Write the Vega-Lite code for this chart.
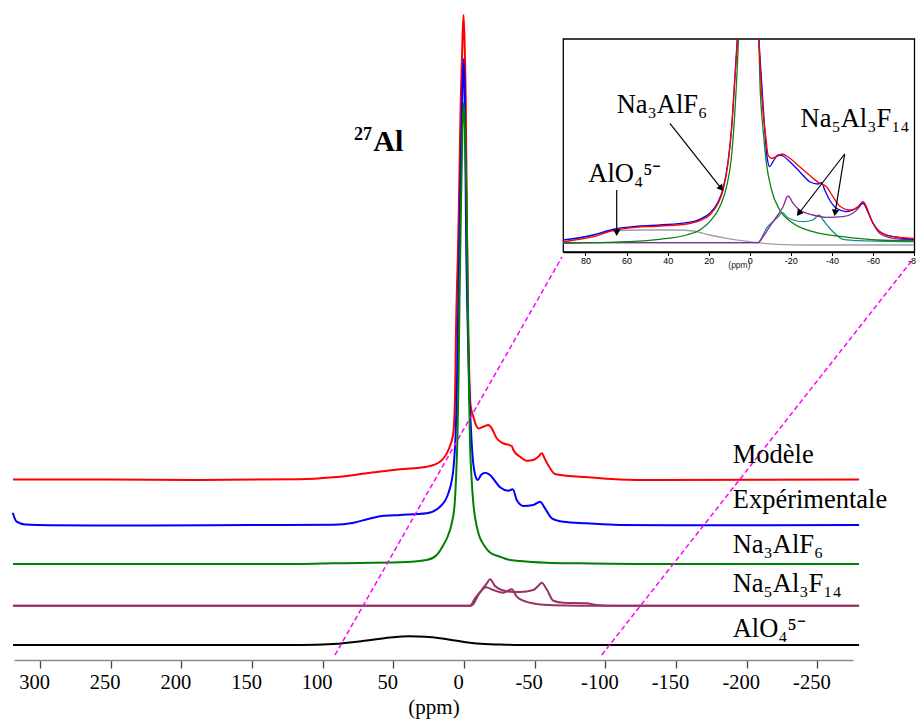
{
  "$schema": "https://vega.github.io/schema/vega-lite/v6.json",
  "width": 839,
  "height": 660,
  "autosize": {"type": "none"},
  "padding": {"left": 14, "top": 0, "right": 63, "bottom": 62},
  "background": "white",
  "config": {"view": {"stroke": null}, "axis": {"labelFont": "Liberation Serif", "titleFont": "Liberation Serif"}},
  "datasets": {
    "main": [
      {"series":"Modèle","ppm":319.1,"value":180.5},{"series":"Modèle","ppm":257.6,"value":180.5},{"series":"Modèle","ppm":186.8,"value":180},{"series":"Modèle","ppm":116.0,"value":180.7},{"series":"Modèle","ppm":92.7,"value":182.7},{"series":"Modèle","ppm":68.8,"value":186.7},{"series":"Modèle","ppm":45.3,"value":190.7},{"series":"Modèle","ppm":26.4,"value":193.3},{"series":"Modèle","ppm":17.0,"value":198.3},{"series":"Modèle","ppm":11.1,"value":210},{"series":"Modèle","ppm":7.8,"value":225},{"series":"Modèle","ppm":6.4,"value":260},{"series":"Modèle","ppm":5.7,"value":327},{"series":"Modèle","ppm":4.0,"value":427},{"series":"Modèle","ppm":2.3,"value":560},{"series":"Modèle","ppm":1.1,"value":620},{"series":"Modèle","ppm":0.35,"value":645},{"series":"Modèle","ppm":-0.35,"value":620},{"series":"Modèle","ppm":-1.2,"value":560},{"series":"Modèle","ppm":-2.1,"value":427},{"series":"Modèle","ppm":-3.0,"value":327},{"series":"Modèle","ppm":-3.75,"value":280},{"series":"Modèle","ppm":-4.6,"value":255},{"series":"Modèle","ppm":-6.6,"value":243.3},{"series":"Modèle","ppm":-9.0,"value":233.3},{"series":"Modèle","ppm":-10.6,"value":231.5},{"series":"Modèle","ppm":-13.7,"value":233.3},{"series":"Modèle","ppm":-17.2,"value":235},{"series":"Modèle","ppm":-19.6,"value":231.7},{"series":"Modèle","ppm":-23.1,"value":221.7},{"series":"Modèle","ppm":-27.8,"value":216.7},{"series":"Modèle","ppm":-33.8,"value":214},{"series":"Modèle","ppm":-34.9,"value":210},{"series":"Modèle","ppm":-39.6,"value":203.3},{"series":"Modèle","ppm":-44.4,"value":199.3},{"series":"Modèle","ppm":-49.0,"value":200},{"series":"Modèle","ppm":-52.6,"value":203.3},{"series":"Modèle","ppm":-55.0,"value":206.7},{"series":"Modèle","ppm":-57.3,"value":200.7},{"series":"Modèle","ppm":-60.9,"value":191.7},{"series":"Modèle","ppm":-64.4,"value":186},{"series":"Modèle","ppm":-75.0,"value":184},{"series":"Modèle","ppm":-90.0,"value":182.5},{"series":"Modèle","ppm":-110.0,"value":180.5},{"series":"Modèle","ppm":-133.7,"value":180},{"series":"Modèle","ppm":-279.5,"value":180.5},
      {"series":"Expérimentale","ppm":319.3,"value":147.3},{"series":"Expérimentale","ppm":316.5,"value":138.3},{"series":"Expérimentale","ppm":310.6,"value":135.5},{"series":"Expérimentale","ppm":292.9,"value":134.7},{"series":"Expérimentale","ppm":222.2,"value":134.5},{"series":"Expérimentale","ppm":151.4,"value":135},{"series":"Expérimentale","ppm":92.7,"value":135.3},{"series":"Expérimentale","ppm":78.0,"value":137.3},{"series":"Expérimentale","ppm":68.0,"value":141},{"series":"Expérimentale","ppm":58.0,"value":144},{"series":"Expérimentale","ppm":45.3,"value":145},{"series":"Expérimentale","ppm":26.4,"value":146.7},{"series":"Expérimentale","ppm":17.0,"value":153.3},{"series":"Expérimentale","ppm":11.1,"value":166.7},{"series":"Expérimentale","ppm":7.6,"value":190},{"series":"Expérimentale","ppm":5.2,"value":260},{"series":"Expérimentale","ppm":4.0,"value":360},{"series":"Expérimentale","ppm":2.5,"value":480},{"series":"Expérimentale","ppm":1.2,"value":565},{"series":"Expérimentale","ppm":0.35,"value":601},{"series":"Expérimentale","ppm":-0.5,"value":565},{"series":"Expérimentale","ppm":-1.6,"value":410},{"series":"Expérimentale","ppm":-3.0,"value":310},{"series":"Expérimentale","ppm":-4.0,"value":260},{"series":"Expérimentale","ppm":-5.3,"value":220},{"series":"Expérimentale","ppm":-6.4,"value":198},{"series":"Expérimentale","ppm":-8.1,"value":184},{"series":"Expérimentale","ppm":-9.7,"value":180},{"series":"Expérimentale","ppm":-12.0,"value":185},{"series":"Expérimentale","ppm":-14.9,"value":187.3},{"series":"Expérimentale","ppm":-18.4,"value":185},{"series":"Expérimentale","ppm":-21.9,"value":179},{"series":"Expérimentale","ppm":-25.5,"value":172.7},{"series":"Expérimentale","ppm":-31.3,"value":169.3},{"series":"Expérimentale","ppm":-34.5,"value":170.7},{"series":"Expérimentale","ppm":-37.3,"value":160},{"series":"Expérimentale","ppm":-42.0,"value":154},{"series":"Expérimentale","ppm":-49.0,"value":155},{"series":"Expérimentale","ppm":-53.8,"value":158.3},{"series":"Expérimentale","ppm":-57.3,"value":151.7},{"series":"Expérimentale","ppm":-62.1,"value":141.7},{"series":"Expérimentale","ppm":-70.3,"value":138.3},{"series":"Expérimentale","ppm":-86.8,"value":136.7},{"series":"Expérimentale","ppm":-110.0,"value":135},{"series":"Expérimentale","ppm":-167.0,"value":134.7},{"series":"Expérimentale","ppm":-279.5,"value":135},
      {"series":"Na3AlF6","ppm":319.1,"value":96},{"series":"Na3AlF6","ppm":116.0,"value":96},{"series":"Na3AlF6","ppm":92.7,"value":96.7},{"series":"Na3AlF6","ppm":45.3,"value":97.7},{"series":"Na3AlF6","ppm":26.4,"value":100},{"series":"Na3AlF6","ppm":19.3,"value":105},{"series":"Na3AlF6","ppm":14.6,"value":115},{"series":"Na3AlF6","ppm":11.7,"value":123},{"series":"Na3AlF6","ppm":8.8,"value":136},{"series":"Na3AlF6","ppm":6.7,"value":155},{"series":"Na3AlF6","ppm":5.7,"value":180},{"series":"Na3AlF6","ppm":4.7,"value":220},{"series":"Na3AlF6","ppm":3.9,"value":280},{"series":"Na3AlF6","ppm":3.2,"value":360},{"series":"Na3AlF6","ppm":2.1,"value":460},{"series":"Na3AlF6","ppm":1.1,"value":530},{"series":"Na3AlF6","ppm":0.2,"value":557},{"series":"Na3AlF6","ppm":-0.7,"value":530},{"series":"Na3AlF6","ppm":-1.8,"value":460},{"series":"Na3AlF6","ppm":-2.7,"value":360},{"series":"Na3AlF6","ppm":-3.4,"value":280},{"series":"Na3AlF6","ppm":-4.2,"value":220},{"series":"Na3AlF6","ppm":-5.4,"value":180},{"series":"Na3AlF6","ppm":-6.7,"value":155},{"series":"Na3AlF6","ppm":-9.6,"value":130},{"series":"Na3AlF6","ppm":-14.9,"value":113.3},{"series":"Na3AlF6","ppm":-18.4,"value":107.5},{"series":"Na3AlF6","ppm":-25.5,"value":103.3},{"series":"Na3AlF6","ppm":-31.1,"value":100.5},{"series":"Na3AlF6","ppm":-39.6,"value":99},{"series":"Na3AlF6","ppm":-58.5,"value":97.3},{"series":"Na3AlF6","ppm":-82.1,"value":96.7},{"series":"Na3AlF6","ppm":-131.6,"value":96},{"series":"Na3AlF6","ppm":-279.5,"value":96},
      {"series":"Na5Al3F14 a","ppm":319.1,"value":54.3},{"series":"Na5Al3F14 a","ppm":-4.2,"value":54.3},{"series":"Na5Al3F14 a","ppm":-7.8,"value":61.7},{"series":"Na5Al3F14 a","ppm":-12.5,"value":70},{"series":"Na5Al3F14 a","ppm":-16.1,"value":76.7},{"series":"Na5Al3F14 a","ppm":-18.4,"value":80.7},{"series":"Na5Al3F14 a","ppm":-21.9,"value":74},{"series":"Na5Al3F14 a","ppm":-26.7,"value":70},{"series":"Na5Al3F14 a","ppm":-32.5,"value":68.3},{"series":"Na5Al3F14 a","ppm":-39.6,"value":68},{"series":"Na5Al3F14 a","ppm":-49.0,"value":70},{"series":"Na5Al3F14 a","ppm":-52.4,"value":74},{"series":"Na5Al3F14 a","ppm":-55.0,"value":77.3},{"series":"Na5Al3F14 a","ppm":-58.5,"value":70.7},{"series":"Na5Al3F14 a","ppm":-63.2,"value":59.3},{"series":"Na5Al3F14 a","ppm":-70.3,"value":57.3},{"series":"Na5Al3F14 a","ppm":-86.8,"value":56.7},{"series":"Na5Al3F14 a","ppm":-93.9,"value":55},{"series":"Na5Al3F14 a","ppm":-103.3,"value":54.3},{"series":"Na5Al3F14 a","ppm":-279.5,"value":54.3},
      {"series":"Na5Al3F14 b","ppm":319.1,"value":54.3},{"series":"Na5Al3F14 b","ppm":-5.0,"value":54.3},{"series":"Na5Al3F14 b","ppm":-6.6,"value":56},{"series":"Na5Al3F14 b","ppm":-10.1,"value":65},{"series":"Na5Al3F14 b","ppm":-15.6,"value":72.7},{"series":"Na5Al3F14 b","ppm":-20.7,"value":70},{"series":"Na5Al3F14 b","ppm":-27.8,"value":67.3},{"series":"Na5Al3F14 b","ppm":-33.8,"value":70.7},{"series":"Na5Al3F14 b","ppm":-37.3,"value":63.3},{"series":"Na5Al3F14 b","ppm":-42.0,"value":59.3},{"series":"Na5Al3F14 b","ppm":-51.4,"value":56},{"series":"Na5Al3F14 b","ppm":-63.2,"value":54.7},{"series":"Na5Al3F14 b","ppm":-82.1,"value":54.3},{"series":"Na5Al3F14 b","ppm":-279.5,"value":54.3},
      {"series":"AlO4","ppm":319.1,"value":15},{"series":"AlO4","ppm":116.0,"value":15},{"series":"AlO4","ppm":92.5,"value":16},{"series":"AlO4","ppm":68.8,"value":19.5},{"series":"AlO4","ppm":52.4,"value":22.5},{"series":"AlO4","ppm":38.2,"value":23.7},{"series":"AlO4","ppm":27.6,"value":23.2},{"series":"AlO4","ppm":17.0,"value":21.8},{"series":"AlO4","ppm":6.4,"value":19.5},{"series":"AlO4","ppm":-4.2,"value":17.2},{"series":"AlO4","ppm":-14.9,"value":16},{"series":"AlO4","ppm":-25.5,"value":15.5},{"series":"AlO4","ppm":-39.6,"value":15},{"series":"AlO4","ppm":-279.5,"value":15}
    ],
    "inset": [
      {"series":"AlO4","seg":"a","ppm":90.8,"value":9.3},{"series":"AlO4","seg":"a","ppm":76.2,"value":17},{"series":"AlO4","seg":"a","ppm":65.7,"value":21.3},{"series":"AlO4","seg":"a","ppm":51.9,"value":22},{"series":"AlO4","seg":"a","ppm":35.7,"value":22},{"series":"AlO4","seg":"a","ppm":27.6,"value":21},{"series":"AlO4","seg":"a","ppm":19.5,"value":17},{"series":"AlO4","seg":"a","ppm":11.3,"value":13.7},{"series":"AlO4","seg":"a","ppm":0,"value":10.3},{"series":"AlO4","seg":"a","ppm":-13.0,"value":7.7},{"series":"AlO4","seg":"a","ppm":-29.2,"value":7},{"series":"AlO4","seg":"a","ppm":-79.9,"value":7},
      {"series":"Na5Al3F14 b","seg":"a","ppm":90.8,"value":9.3},{"series":"Na5Al3F14 b","seg":"a","ppm":-4.0,"value":9.3},{"series":"Na5Al3F14 b","seg":"a","ppm":-5.7,"value":13.7},{"series":"Na5Al3F14 b","seg":"a","ppm":-8.1,"value":23.7},{"series":"Na5Al3F14 b","seg":"a","ppm":-11.3,"value":30.3},{"series":"Na5Al3F14 b","seg":"a","ppm":-13.8,"value":35.3},{"series":"Na5Al3F14 b","seg":"a","ppm":-15.9,"value":39.3},{"series":"Na5Al3F14 b","seg":"a","ppm":-17.9,"value":35.3},{"series":"Na5Al3F14 b","seg":"a","ppm":-21.1,"value":32},{"series":"Na5Al3F14 b","seg":"a","ppm":-25.9,"value":30.3},{"series":"Na5Al3F14 b","seg":"a","ppm":-30.8,"value":32},{"series":"Na5Al3F14 b","seg":"a","ppm":-33.7,"value":37},{"series":"Na5Al3F14 b","seg":"a","ppm":-35.7,"value":32},{"series":"Na5Al3F14 b","seg":"a","ppm":-38.9,"value":23.7},{"series":"Na5Al3F14 b","seg":"a","ppm":-42.2,"value":17},{"series":"Na5Al3F14 b","seg":"a","ppm":-45.4,"value":12.7},{"series":"Na5Al3F14 b","seg":"a","ppm":-53.5,"value":11.3},{"series":"Na5Al3F14 b","seg":"a","ppm":-79.9,"value":10.3},
      {"series":"Na5Al3F14 a","seg":"a","ppm":90.8,"value":9.3},{"series":"Na5Al3F14 a","seg":"a","ppm":-4.0,"value":9.3},{"series":"Na5Al3F14 a","seg":"a","ppm":-6.5,"value":15.3},{"series":"Na5Al3F14 a","seg":"a","ppm":-9.7,"value":25.3},{"series":"Na5Al3F14 a","seg":"a","ppm":-13.0,"value":35.3},{"series":"Na5Al3F14 a","seg":"a","ppm":-16.2,"value":45.3},{"series":"Na5Al3F14 a","seg":"a","ppm":-18.6,"value":56},{"series":"Na5Al3F14 a","seg":"a","ppm":-21.1,"value":48.7},{"series":"Na5Al3F14 a","seg":"a","ppm":-24.3,"value":42},{"series":"Na5Al3F14 a","seg":"a","ppm":-30.8,"value":37},{"series":"Na5Al3F14 a","seg":"a","ppm":-37.3,"value":34.7},{"series":"Na5Al3F14 a","seg":"a","ppm":-45.4,"value":35.3},{"series":"Na5Al3F14 a","seg":"a","ppm":-50.2,"value":38.7},{"series":"Na5Al3F14 a","seg":"a","ppm":-53.5,"value":45.3},{"series":"Na5Al3F14 a","seg":"a","ppm":-55.1,"value":50.3},{"series":"Na5Al3F14 a","seg":"a","ppm":-57.5,"value":40.3},{"series":"Na5Al3F14 a","seg":"a","ppm":-60.0,"value":28.7},{"series":"Na5Al3F14 a","seg":"a","ppm":-63.2,"value":18.7},{"series":"Na5Al3F14 a","seg":"a","ppm":-69.7,"value":13.7},{"series":"Na5Al3F14 a","seg":"a","ppm":-79.9,"value":12},
      {"series":"Na3AlF6","seg":"a","ppm":90.8,"value":8.7},{"series":"Na3AlF6","seg":"a","ppm":60.0,"value":10.3},{"series":"Na3AlF6","seg":"a","ppm":43.8,"value":12.7},{"series":"Na3AlF6","seg":"a","ppm":30.8,"value":17},{"series":"Na3AlF6","seg":"a","ppm":24.3,"value":22},{"series":"Na3AlF6","seg":"a","ppm":19.5,"value":30.3},{"series":"Na3AlF6","seg":"a","ppm":14.6,"value":45.3},{"series":"Na3AlF6","seg":"a","ppm":11.3,"value":65.3},{"series":"Na3AlF6","seg":"a","ppm":8.9,"value":95.3},{"series":"Na3AlF6","seg":"a","ppm":7.3,"value":138.7},{"series":"Na3AlF6","seg":"a","ppm":6.0,"value":188.7},{"series":"Na3AlF6","seg":"a","ppm":5.5,"value":213},
      {"series":"Na3AlF6","seg":"b","ppm":-4.4,"value":213},{"series":"Na3AlF6","seg":"b","ppm":-4.9,"value":172},{"series":"Na3AlF6","seg":"b","ppm":-6.5,"value":122},{"series":"Na3AlF6","seg":"b","ppm":-8.1,"value":88.7},{"series":"Na3AlF6","seg":"b","ppm":-10.6,"value":62},{"series":"Na3AlF6","seg":"b","ppm":-14.6,"value":42},{"series":"Na3AlF6","seg":"b","ppm":-21.1,"value":28.7},{"series":"Na3AlF6","seg":"b","ppm":-30.8,"value":20.3},{"series":"Na3AlF6","seg":"b","ppm":-45.4,"value":15.3},{"series":"Na3AlF6","seg":"b","ppm":-61.6,"value":12},{"series":"Na3AlF6","seg":"b","ppm":-79.9,"value":11},
      {"series":"Expérimentale","seg":"a","ppm":90.8,"value":12},{"series":"Expérimentale","seg":"a","ppm":76.2,"value":17},{"series":"Expérimentale","seg":"a","ppm":65.7,"value":23},{"series":"Expérimentale","seg":"a","ppm":60.0,"value":24.7},{"series":"Expérimentale","seg":"a","ppm":43.8,"value":27},{"series":"Expérimentale","seg":"a","ppm":30.8,"value":29.3},{"series":"Expérimentale","seg":"a","ppm":24.3,"value":32.7},{"series":"Expérimentale","seg":"a","ppm":19.5,"value":38.7},{"series":"Expérimentale","seg":"a","ppm":15.4,"value":50.3},{"series":"Expérimentale","seg":"a","ppm":13.0,"value":63.5},{"series":"Expérimentale","seg":"a","ppm":10.6,"value":90},{"series":"Expérimentale","seg":"a","ppm":8.9,"value":123},{"series":"Expérimentale","seg":"a","ppm":7.3,"value":173},{"series":"Expérimentale","seg":"a","ppm":6.1,"value":213},
      {"series":"Expérimentale","seg":"b","ppm":-4.4,"value":213},{"series":"Expérimentale","seg":"b","ppm":-5.7,"value":172},{"series":"Expérimentale","seg":"b","ppm":-7.3,"value":122},{"series":"Expérimentale","seg":"b","ppm":-8.4,"value":95.3},{"series":"Expérimentale","seg":"b","ppm":-9.7,"value":85.3},{"series":"Expérimentale","seg":"b","ppm":-11.3,"value":90.3},{"series":"Expérimentale","seg":"b","ppm":-13.8,"value":97},{"series":"Expérimentale","seg":"b","ppm":-16.2,"value":96},{"series":"Expérimentale","seg":"b","ppm":-19.5,"value":90.3},{"series":"Expérimentale","seg":"b","ppm":-24.3,"value":80.3},{"series":"Expérimentale","seg":"b","ppm":-29.2,"value":70.3},{"series":"Expérimentale","seg":"b","ppm":-33.2,"value":68},{"series":"Expérimentale","seg":"b","ppm":-34.9,"value":69.3},{"series":"Expérimentale","seg":"b","ppm":-36.5,"value":62},{"series":"Expérimentale","seg":"b","ppm":-38.9,"value":52},{"series":"Expérimentale","seg":"b","ppm":-42.2,"value":43.7},{"series":"Expérimentale","seg":"b","ppm":-47.0,"value":40.3},{"series":"Expérimentale","seg":"b","ppm":-51.9,"value":43.7},{"series":"Expérimentale","seg":"b","ppm":-55.1,"value":48.7},{"series":"Expérimentale","seg":"b","ppm":-57.5,"value":40.3},{"series":"Expérimentale","seg":"b","ppm":-60.0,"value":28.7},{"series":"Expérimentale","seg":"b","ppm":-63.2,"value":20.3},{"series":"Expérimentale","seg":"b","ppm":-69.7,"value":15.3},{"series":"Expérimentale","seg":"b","ppm":-79.9,"value":12.7},
      {"series":"Modèle","seg":"a","ppm":90.8,"value":10.3},{"series":"Modèle","seg":"a","ppm":76.2,"value":15.3},{"series":"Modèle","seg":"a","ppm":65.7,"value":22},{"series":"Modèle","seg":"a","ppm":60.0,"value":23.7},{"series":"Modèle","seg":"a","ppm":43.8,"value":26},{"series":"Modèle","seg":"a","ppm":30.8,"value":28},{"series":"Modèle","seg":"a","ppm":24.3,"value":31.3},{"series":"Modèle","seg":"a","ppm":19.5,"value":37},{"series":"Modèle","seg":"a","ppm":15.4,"value":48.7},{"series":"Modèle","seg":"a","ppm":13.0,"value":62},{"series":"Modèle","seg":"a","ppm":10.6,"value":88.7},{"series":"Modèle","seg":"a","ppm":8.9,"value":122},{"series":"Modèle","seg":"a","ppm":7.3,"value":172},{"series":"Modèle","seg":"a","ppm":6.0,"value":213},
      {"series":"Modèle","seg":"b","ppm":-4.4,"value":213},{"series":"Modèle","seg":"b","ppm":-5.4,"value":172},{"series":"Modèle","seg":"b","ppm":-6.5,"value":138.7},{"series":"Modèle","seg":"b","ppm":-7.8,"value":115.3},{"series":"Modèle","seg":"b","ppm":-8.9,"value":97},{"series":"Modèle","seg":"b","ppm":-10.6,"value":93.7},{"series":"Modèle","seg":"b","ppm":-13.0,"value":95.3},{"series":"Modèle","seg":"b","ppm":-15.7,"value":98},{"series":"Modèle","seg":"b","ppm":-19.5,"value":93.7},{"series":"Modèle","seg":"b","ppm":-24.3,"value":85.3},{"series":"Modèle","seg":"b","ppm":-30.8,"value":73.7},{"series":"Modèle","seg":"b","ppm":-34.0,"value":68.7},{"series":"Modèle","seg":"b","ppm":-37.3,"value":65.3},{"series":"Modèle","seg":"b","ppm":-40.5,"value":55.3},{"series":"Modèle","seg":"b","ppm":-43.8,"value":46},{"series":"Modèle","seg":"b","ppm":-48.6,"value":42},{"series":"Modèle","seg":"b","ppm":-52.7,"value":45.3},{"series":"Modèle","seg":"b","ppm":-55.1,"value":50.3},{"series":"Modèle","seg":"b","ppm":-56.8,"value":45.3},{"series":"Modèle","seg":"b","ppm":-59.2,"value":32},{"series":"Modèle","seg":"b","ppm":-62.4,"value":22},{"series":"Modèle","seg":"b","ppm":-66.5,"value":17},{"series":"Modèle","seg":"b","ppm":-73.0,"value":14.7},{"series":"Modèle","seg":"b","ppm":-79.9,"value":13.7}
    ]
  },
  "layer": [
    {
      "encoding": {
        "x": {"field": "ppm", "type": "quantitative",
          "scale": {"domain": [-275.2, 318.4], "reverse": true, "nice": false, "zero": false},
          "axis": {"orient": "bottom", "values": [300, 250, 200, 150, 100, 50, 0, -50, -100, -150, -200, -250],
            "labelExpr": "'' + datum.value", "labelFont": "Liberation Serif", "labelFontSize": 20.5, "labelColor": "black",
            "labelOffset": -6, "labelPadding": 4, "labelFlush": false, "labelOverlap": false,
            "domainColor": "#8c8c8c", "domainWidth": 1.5, "tickColor": "#444", "tickSize": 8, "tickWidth": 1.3, "grid": false,
            "title": "(ppm)", "titleFont": "Liberation Serif", "titleFontSize": 21, "titleFontWeight": "normal", "titleColor": "black", "titlePadding": 4}},
        "y": {"field": "value", "type": "quantitative", "scale": {"domain": [0, 660], "nice": false, "zero": false}, "axis": null}
      },
      "layer": [
        {
          "data": {"name": "main"},
          "mark": {"type": "line", "strokeWidth": 2, "interpolate": "monotone"},
          "encoding": {
            "color": {"field": "series", "type": "nominal",
              "scale": {"domain": ["Modèle", "Expérimentale", "Na3AlF6", "Na5Al3F14 a", "Na5Al3F14 b", "AlO4"],
                        "range": ["#ff0000", "#0000ff", "#008000", "#993366", "#993366", "#000000"]},
              "legend": null}
          }
        },
        {
          "data": {"values": [
            {"ppm": 91.3, "value": 5, "ppm2": -69.3, "value2": 403},
            {"ppm": -97.4, "value": 5, "ppm2": -317.7, "value2": 401}
          ]},
          "mark": {"type": "rule", "color": "#ff00ff", "strokeWidth": 1.5, "strokeDash": [5, 3]},
          "encoding": {"x2": {"field": "ppm2"}, "y2": {"field": "value2"}}
        },
        {
          "data": {"values": [
            {"label": "Modèle", "ppm": -190.1, "value": 197.3},
            {"label": "Expérimentale", "ppm": -190.1, "value": 151.7},
            {"label": "Na₃AlF₆", "ppm": -190.1, "value": 106.7},
            {"label": "Na₅Al₃F₁₄", "ppm": -190.1, "value": 67.7},
            {"label": "AlO₄⁵⁻", "ppm": -190.1, "value": 23.3}
          ]},
          "mark": {"type": "text", "align": "left", "baseline": "alphabetic", "font": "Liberation Serif", "fontSize": 26.5, "color": "black"},
          "encoding": {"text": {"field": "label"}}
        },
        {
          "data": {"values": [{"label": "Al", "ppm": 64.2, "value": 509.3}]},
          "mark": {"type": "text", "align": "left", "baseline": "alphabetic", "font": "Liberation Serif", "fontSize": 30, "fontWeight": "bold", "color": "black"},
          "encoding": {"text": {"field": "label"}}
        },
        {
          "data": {"values": [{"label": "27", "ppm": 65.1, "value": 520}]},
          "mark": {"type": "text", "align": "right", "baseline": "alphabetic", "font": "Liberation Serif", "fontSize": 18, "fontWeight": "bold", "color": "black"},
          "encoding": {"text": {"field": "label"}}
        }
      ]
    },
    {
      "encoding": {
        "x": {"field": "ppm", "type": "quantitative",
          "scale": {"domain": [-80.2, 90.8], "reverse": true, "range": [549.3, 900.5], "nice": false, "zero": false},
          "axis": {"orient": "bottom", "offset": -408, "zindex": 1, "values": [80, 60, 40, 20, 0, -20, -40, -60, -80],
            "labelExpr": "'' + datum.value", "labelFont": "Liberation Sans", "labelFontSize": 9, "labelColor": "black",
            "labelPadding": 1, "labelFlush": false, "labelOverlap": false,
            "domainColor": "black", "domainWidth": 1.3, "tickColor": "black", "tickSize": 3.5, "tickWidth": 1, "grid": false,
            "title": "(ppm)", "titleFont": "Liberation Sans", "titleFontSize": 8.5, "titleFontWeight": "normal", "titleColor": "#222", "titlePadding": -5}},
        "y": {"field": "value", "type": "quantitative", "scale": {"domain": [0, 213], "range": [252, 39], "nice": false, "zero": false}, "axis": null}
      },
      "layer": [
        {
          "data": {"values": [{"ppm": 90.8, "ppm2": -80.2, "value": 0, "value2": 213}]},
          "mark": {"type": "rect", "fill": "white", "stroke": "black", "strokeWidth": 1.3},
          "encoding": {"x2": {"field": "ppm2"}, "y2": {"field": "value2"}}
        },
        {
          "data": {"name": "inset"},
          "mark": {"type": "line", "strokeWidth": 1.3, "interpolate": "monotone"},
          "encoding": {
            "color": {"field": "series", "type": "nominal",
              "scale": {"domain": ["AlO4", "Na5Al3F14 b", "Na5Al3F14 a", "Na3AlF6", "Expérimentale", "Modèle"],
                        "range": ["#a0a0a0", "#1a8c8c", "#8c2a9c", "#108010", "#0000ff", "#ff0000"]},
              "legend": null},
            "detail": {"field": "seg"}
          }
        },
        {
          "data": {"values": [
            {"ppm": 38.9, "value": 128.7, "ppm2": 14.2, "value2": 64.4},
            {"ppm": 64.8, "value": 62, "ppm2": 64.8, "value2": 20.3},
            {"ppm": -46.2, "value": 98, "ppm2": -24.2, "value2": 39.5},
            {"ppm": -46.2, "value": 98, "ppm2": -41.6, "value2": 40.2}
          ]},
          "mark": {"type": "rule", "color": "black", "strokeWidth": 1.2},
          "encoding": {"x2": {"field": "ppm2"}, "y2": {"field": "value2"}}
        },
        {
          "data": {"values": [{"ppm": 14.2, "value": 64.4}]},
          "mark": {"type": "point", "shape": "triangle", "filled": true, "color": "black", "opacity": 1, "size": 55, "angle": 141.4}
        },
        {
          "data": {"values": [{"ppm": 64.8, "value": 20.3}]},
          "mark": {"type": "point", "shape": "triangle", "filled": true, "color": "black", "opacity": 1, "size": 55, "angle": 180}
        },
        {
          "data": {"values": [{"ppm": -24.2, "value": 39.5}]},
          "mark": {"type": "point", "shape": "triangle", "filled": true, "color": "black", "opacity": 1, "size": 55, "angle": 217.7}
        },
        {
          "data": {"values": [{"ppm": -41.6, "value": 40.2}]},
          "mark": {"type": "point", "shape": "triangle", "filled": true, "color": "black", "opacity": 1, "size": 55, "angle": 189.2}
        },
        {
          "data": {"values": [
            {"label": "Na₃AlF₆", "ppm": 64.8, "value": 138.7},
            {"label": "Na₅Al₃F₁₄", "ppm": -24.7, "value": 125.3},
            {"label": "AlO₄⁵⁻", "ppm": 78.6, "value": 70.3}
          ]},
          "mark": {"type": "text", "align": "left", "baseline": "alphabetic", "font": "Liberation Serif", "fontSize": 26.5, "color": "black"},
          "encoding": {"text": {"field": "label"}}
        }
      ]
    }
  ],
  "resolve": {"scale": {"x": "independent", "y": "independent", "color": "independent"}, "axis": {"x": "independent", "y": "independent"}}
}
